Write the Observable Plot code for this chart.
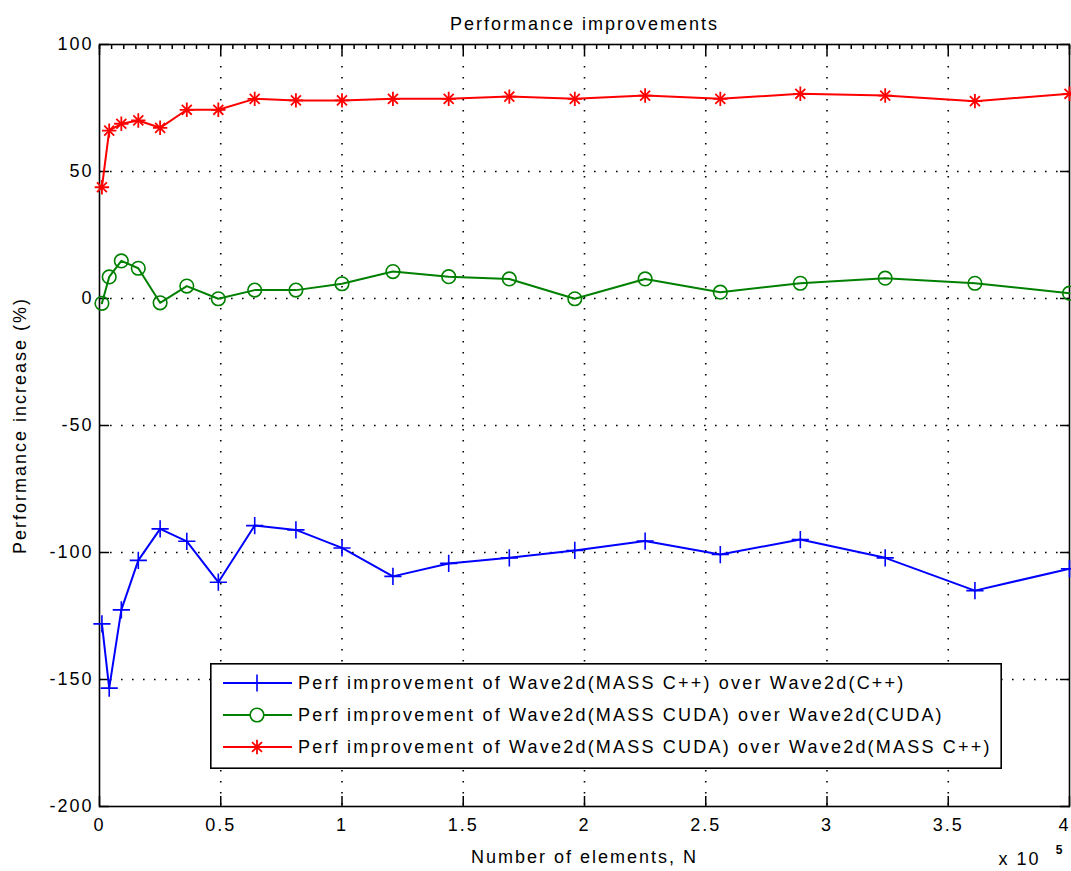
<!DOCTYPE html>
<html><head><meta charset="utf-8">
<script src="https://cdn.jsdelivr.net/npm/d3@7"></script>
<script src="https://cdn.jsdelivr.net/npm/@observablehq/plot@0.6"></script>
<style>
body{margin:0;background:#fff;}
#wrap{position:relative;width:1071px;height:871px;}
#legend{position:absolute;left:210px;top:663px;}
</style></head><body><div id="wrap"></div>
<script>
// Number of elements N (x 10^5)
const N = [0.01,0.04,0.09,0.16,0.25,0.36,0.49,0.64,0.81,1.00,1.21,1.44,1.69,1.96,2.25,2.56,2.89,3.24,3.61,4.00];
// Perf improvement of Wave2d(MASS C++) over Wave2d(C++)
const massCpp = [-128.1,-153.4,-122.6,-103.1,-90.7,-95.6,-111.7,-89.4,-91.1,-98.2,-109.4,-104.3,-102.1,-99.2,-95.5,-100.8,-94.9,-102.1,-115.0,-106.4];
// Perf improvement of Wave2d(MASS CUDA) over Wave2d(CUDA)
const massCuda = [-1.9,8.5,14.8,11.9,-1.7,4.9,-0.1,3.3,3.3,5.8,10.6,8.6,7.7,-0.1,7.7,2.5,6.0,8.0,6.0,2.1];
// Perf improvement of Wave2d(MASS CUDA) over Wave2d(MASS C++)
const cudaVsCpp = [43.8,66.1,68.8,70.1,67.2,74.3,74.3,78.6,78.0,78.0,78.6,78.6,79.5,78.6,79.9,78.6,80.6,79.9,77.7,80.6];

const seriesNames = [
  "Perf improvement of Wave2d(MASS C++) over Wave2d(C++)",
  "Perf improvement of Wave2d(MASS CUDA) over Wave2d(CUDA)",
  "Perf improvement of Wave2d(MASS CUDA) over Wave2d(MASS C++)"
];
const seriesColors = ["#0000ff", "#008000", "#ff0000"];
const xTicks = [0,0.5,1,1.5,2,2.5,3,3.5,4];
const yTicks = [-200,-150,-100,-50,0,50,100];
const xMinorTicks = d3.range(0, 4.0001, 0.05);
const titleText = "Performance improvements";
const xLabel = "Number of elements, N";
const yLabel = "Performance increase (%)";

const toRows = (vals) => N.map((x, i) => ({x, y: vals[i]}));
const blueRows = toRows(massCpp), greenRows = toRows(massCuda), redRows = toRows(cudaVsCpp);

const FONT = "'Liberation Sans', Arial, sans-serif";
const PLUS_R = 5.6, STAR_PLUS_R = 4.7, STAR_TIMES_R = 4.6, CIRCLE_R = 6.8;

const chart = Plot.plot({
  width: 1071, height: 871,
  marginLeft: 99, marginRight: 2, marginTop: 44, marginBottom: 65,
  style: {fontFamily: FONT, fontSize: "18px", letterSpacing: "2px", color: "#000", background: "#fff"},
  x: {domain: [0, 4], ticks: xTicks},
  y: {domain: [-200, 100], ticks: yTicks},
  marks: [
    Plot.gridX(xTicks.slice(1, -1), {stroke: "#000", strokeOpacity: 1, strokeWidth: 1.6, strokeDasharray: "1.6,9.4"}),
    Plot.gridY(yTicks.slice(1, -1), {stroke: "#000", strokeOpacity: 1, strokeWidth: 1.6, strokeDasharray: "1.6,9.4"}),
    // ticks (inward)
    Plot.axisX(xTicks, {anchor: "bottom", tickSize: -10, text: null, label: null, strokeWidth: 1.5}),
    Plot.axisX(xTicks, {anchor: "top", tickSize: -10, text: null, label: null, strokeWidth: 1.5}),
    Plot.axisX(xMinorTicks, {anchor: "top", tickSize: -4, text: null, label: null, strokeWidth: 1.5}),
    Plot.axisY(yTicks, {anchor: "left", tickSize: -10, text: null, label: null, strokeWidth: 1.5}),
    Plot.axisY(yTicks, {anchor: "right", tickSize: -10, text: null, label: null, strokeWidth: 1.5}),
    // tick labels
    Plot.axisX(xTicks.slice(0, -1), {anchor: "bottom", tickSize: 0, tickPadding: 12, label: null, tickFormat: d => String(d)}),
    Plot.axisX(xTicks.slice(-1), {anchor: "bottom", tickSize: 0, tickPadding: 12, label: null, textAnchor: "end", dx: 1, tickFormat: d => String(d)}),
    Plot.axisY(yTicks, {anchor: "left", tickSize: 0, tickPadding: 6, label: null, tickFormat: d => String(d)}),
    Plot.frame({stroke: "#000", strokeWidth: 1.6}),
    // series
    Plot.line(blueRows, {x: "x", y: "y", stroke: seriesColors[0], strokeWidth: 2}),
    Plot.dot(blueRows, {x: "x", y: "y", symbol: "plus", r: PLUS_R, stroke: seriesColors[0], strokeWidth: 1.6}),
    Plot.line(greenRows, {x: "x", y: "y", stroke: seriesColors[1], strokeWidth: 2}),
    Plot.dot(greenRows, {x: "x", y: "y", symbol: "circle", r: CIRCLE_R, stroke: seriesColors[1], strokeWidth: 1.6, fill: "none"}),
    Plot.line(redRows, {x: "x", y: "y", stroke: seriesColors[2], strokeWidth: 2}),
    Plot.dot(redRows, {x: "x", y: "y", symbol: "plus", r: STAR_PLUS_R, stroke: seriesColors[2], strokeWidth: 1.8}),
    Plot.dot(redRows, {x: "x", y: "y", symbol: "times", r: STAR_TIMES_R, stroke: seriesColors[2], strokeWidth: 1.8}),
    // titles
    Plot.text([titleText], {frameAnchor: "top", dy: -27}),
    Plot.text([xLabel], {frameAnchor: "bottom", dy: 56}),
    Plot.text([yLabel], {frameAnchor: "left", dx: -79, rotate: -90, textAnchor: "middle"}),
    Plot.text(["x 10"], {frameAnchor: "bottom-right", dx: -29, dy: 58, textAnchor: "end"}),
    Plot.text(["5"], {frameAnchor: "bottom-right", dx: -5, dy: 47, textAnchor: "end", fontSize: 12, fontWeight: "bold"})
  ]
});
const wrap = document.getElementById("wrap");
wrap.appendChild(chart);

// Legend (overlay)
const LW = 792, LH = 106;
const leg = d3.select(wrap).append("svg").attr("id", "legend").attr("width", LW).attr("height", LH)
  .style("font-family", FONT).style("font-size", "18px").style("letter-spacing", "2.2px");
leg.append("rect").attr("x", 0.8).attr("y", 0.8).attr("width", LW - 1.6).attr("height", LH - 1.6)
  .attr("fill", "#fff").attr("stroke", "#000").attr("stroke-width", 1.6);
const symbolsPer = [[["plus", PLUS_R, 1.6]], [["circle", CIRCLE_R, 1.6]], [["plus", STAR_PLUS_R, 1.8], ["times", STAR_TIMES_R, 1.8]]];
const symMap = {plus: d3.symbolPlus, circle: d3.symbolCircle, times: d3.symbolTimes};
seriesNames.forEach((name, i) => {
  const cy = 20 + i * 32;
  const g = leg.append("g");
  g.append("line").attr("x1", 13).attr("x2", 82).attr("y1", cy).attr("y2", cy)
    .attr("stroke", seriesColors[i]).attr("stroke-width", 2);
  symbolsPer[i].forEach(([s, r, sw]) => {
    g.append("path").attr("transform", `translate(47,${cy})`)
      .attr("d", d3.symbol(symMap[s], Math.PI * r * r)())
      .attr("fill", s === "circle" ? "#fff" : "none").attr("stroke", seriesColors[i]).attr("stroke-width", sw);
  });
  g.append("text").attr("x", 88).attr("y", cy).attr("dominant-baseline", "central").text(name);
});
</script></body></html>
